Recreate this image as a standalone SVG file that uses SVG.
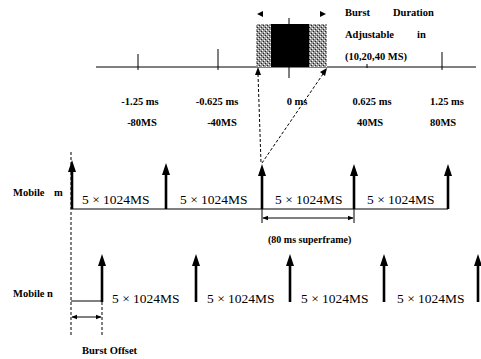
<svg xmlns="http://www.w3.org/2000/svg" width="481" height="359" viewBox="0 0 481 359">
<style>
.t{font-family:"Liberation Serif",serif;font-weight:bold;font-size:10.5px;fill:#000}
.s{font-size:10px}
.lbl{font-family:"Liberation Serif",serif;font-size:13.5px;fill:#000}
.ln{stroke:#000;stroke-width:1;fill:none}
.dash{stroke:#000;stroke-width:1;stroke-dasharray:3,2;fill:none}
.arr{stroke:#000;stroke-width:2.6;fill:none}
.head{fill:#000}
</style>
<defs>
<pattern id="stip" width="4" height="4" patternUnits="userSpaceOnUse">
<rect width="4" height="4" fill="#9a9a9a"/>
<rect x="0" y="0" width="1" height="1" fill="#fff"/>
<rect x="2" y="2" width="1" height="1" fill="#fff"/>
<rect x="1" y="3" width="1" height="1" fill="#222"/>
<rect x="3" y="1" width="1" height="1" fill="#222"/>
</pattern>
<marker id="ah" viewBox="0 0 10 10" refX="9" refY="5" markerWidth="6" markerHeight="6" orient="auto-start-reverse" markerUnits="userSpaceOnUse">
<path d="M0,1 L10,5 L0,9 z" fill="#000"/>
</marker>
</defs>

<g id="timeline">
<line class="ln" x1="96" y1="67" x2="476" y2="67"/>
<line class="ln" x1="138" y1="54" x2="138" y2="70"/>
<line class="ln" x1="218" y1="49" x2="218" y2="70"/>
<line class="ln" x1="289" y1="67" x2="289" y2="78"/>
<line class="ln" x1="289" y1="18" x2="289" y2="24"/>
<line class="ln" x1="367" y1="64" x2="367" y2="68"/>
<line class="ln" x1="442" y1="52" x2="442" y2="70"/>
</g>

<g id="burst">
<rect x="256" y="24" width="15" height="43" fill="url(#stip)"/>
<rect x="271" y="24" width="38" height="43" fill="#000"/>
<rect x="309" y="24" width="18" height="43" fill="url(#stip)"/>
<path class="head" d="M257,14 L263,11 L263,17 z"/>
<path class="head" d="M326,14 L320,11 L320,17 z"/>
<text class="t" x="345" y="16">Burst</text>
<text class="t" x="393" y="16">Duration</text>
<text class="t" x="345" y="38">Adjustable</text>
<text class="t" x="417" y="38">in</text>
<text class="t" x="345" y="60">(10,20,40 MS)</text>
</g>

<g id="ticklabels">
<text class="t" x="140" y="105" text-anchor="middle">-1.25 ms</text>
<text class="t" x="217" y="105" text-anchor="middle">-0.625 ms</text>
<text class="t" x="297" y="105" text-anchor="middle">0 ms</text>
<text class="t" x="372" y="105" text-anchor="middle">0.625 ms</text>
<text class="t" x="447" y="105" text-anchor="middle">1.25 ms</text>
<text class="t" x="142" y="126" text-anchor="middle">-80MS</text>
<text class="t" x="222" y="126" text-anchor="middle">-40MS</text>
<text class="t" x="370" y="126" text-anchor="middle">40MS</text>
<text class="t" x="443" y="126" text-anchor="middle">80MS</text>
</g>

<g id="mobile-m">
<text class="t" x="13" y="196">Mobile</text>
<text class="t" x="54" y="196">m</text>
<line class="ln" x1="72" y1="209" x2="448" y2="209"/>
<line class="arr" x1="72" y1="170" x2="72" y2="209"/>
<path class="head" d="M72,160 L68,172 L76,172 z"/>
<line class="arr" x1="166" y1="172" x2="166" y2="209"/>
<path class="head" d="M166,163 L162,175 L170,175 z"/>
<line class="arr" x1="262" y1="173" x2="262" y2="209"/>
<path class="head" d="M262,164 L258,176 L266,176 z"/>
<line class="arr" x1="354" y1="173" x2="354" y2="209"/>
<path class="head" d="M354,164 L350,176 L358,176 z"/>
<line class="arr" x1="448" y1="173" x2="448" y2="209"/>
<path class="head" d="M448,164 L444,176 L452,176 z"/>
<text class="lbl" x="82" y="204">5 × 1024MS</text>
<text class="lbl" x="180" y="204">5 × 1024MS</text>
<text class="lbl" x="275" y="204">5 × 1024MS</text>
<text class="lbl" x="367" y="204">5 × 1024MS</text>
<line class="ln" x1="262" y1="209" x2="262" y2="223"/>
<line class="ln" x1="354" y1="209" x2="354" y2="223"/>
<line class="ln" x1="263" y1="218" x2="353" y2="218" marker-start="url(#ah)" marker-end="url(#ah)"/>
<text class="t s" x="268" y="243">(80 ms superframe)</text>
</g>

<g id="mobile-n">
<text class="t" x="13" y="297">Mobile n</text>
<line class="ln" x1="71" y1="301" x2="102" y2="301"/>
<line class="arr" x1="102" y1="263" x2="102" y2="302"/>
<path class="head" d="M102,254 L98,266 L106,266 z"/>
<line class="arr" x1="196" y1="263" x2="196" y2="302"/>
<path class="head" d="M196,254 L192,266 L200,266 z"/>
<line class="arr" x1="290" y1="263" x2="290" y2="302"/>
<path class="head" d="M290,254 L286,266 L294,266 z"/>
<line class="arr" x1="384" y1="263" x2="384" y2="302"/>
<path class="head" d="M384,254 L380,266 L388,266 z"/>
<line class="arr" x1="478" y1="263" x2="478" y2="302"/>
<path class="head" d="M478,254 L474,266 L482,266 z"/>
<text class="lbl" x="112" y="303">5 × 1024MS</text>
<text class="lbl" x="207" y="303">5 × 1024MS</text>
<text class="lbl" x="301" y="303">5 × 1024MS</text>
<text class="lbl" x="397" y="303">5 × 1024MS</text>
<line class="ln" x1="72" y1="317" x2="101" y2="317" marker-start="url(#ah)" marker-end="url(#ah)"/>
<text class="t" x="82" y="354">Burst Offset</text>
</g>

<g id="connectors">
<line class="dash" x1="71" y1="152" x2="71" y2="336"/>
<line class="dash" x1="102" y1="302" x2="102" y2="336"/>
<line class="dash" x1="258" y1="74" x2="261" y2="163"/>
<path class="head" d="M258,67 L255,75 L261,75 z"/>
<line class="dash" x1="262" y1="163" x2="323" y2="74"/>
<path class="head" d="M327,68 L320,72 L325,76 z"/>
</g>
</svg>
